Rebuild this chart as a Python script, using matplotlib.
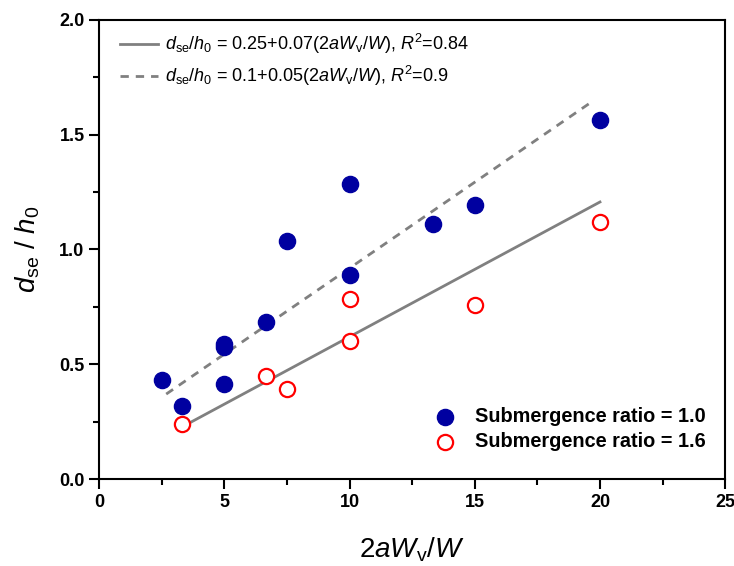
import numpy as np
import matplotlib
matplotlib.use("Agg")
import matplotlib.pyplot as plt

plt.rcParams["font.family"] = ["Liberation Sans", "DejaVu Sans"]
plt.rcParams["mathtext.fontset"] = "custom"
plt.rcParams["mathtext.rm"] = "Liberation Sans"
plt.rcParams["mathtext.it"] = "Liberation Sans:italic"
plt.rcParams["mathtext.bf"] = "Liberation Sans:bold"

# Submergence ratio = 1.0
x_10 = [2.5, 3.33, 5.0, 5.0, 5.0, 6.67, 7.5, 10.0, 10.0, 13.33, 15.0, 20.0]
y_10 = [0.43, 0.32, 0.575, 0.59, 0.415, 0.686, 1.035, 1.284, 0.891, 1.109, 1.192, 1.563]

# Submergence ratio = 1.6
x_16 = [3.33, 6.67, 7.5, 10.0, 10.0, 15.0, 20.0]
y_16 = [0.240, 0.450, 0.393, 0.786, 0.603, 0.760, 1.118]

# fit lines (end points)
fit_solid_x = [3.45, 20.0]
fit_solid_y = [0.235, 1.207]
fit_dash_x = [2.68, 19.6]
fit_dash_y = [0.37, 1.638]

lab_solid = r"$d_{\rm se}/h_0$ = 0.25+0.07(2$aW_{\rm v}/W$), $R^2$=0.84"
lab_dash = r"$d_{\rm se}/h_0$ = 0.1+0.05(2$aW_{\rm v}/W$), $R^2$=0.9"

fig = plt.figure(figsize=(7.34, 5.66), dpi=100)
ax = fig.add_axes([0.135, 0.1537, 0.853, 0.811])

l1, = ax.plot(fit_solid_x, fit_solid_y, color="#808080", linewidth=2.0, label=lab_solid)
l2, = ax.plot(fit_dash_x, fit_dash_y, color="#808080", linewidth=2.0,
              linestyle=(0, (3, 2.5)), label=lab_dash)

s1 = ax.scatter(x_10, y_10, s=135, color="#0000a0", zorder=3,
                label="Submergence ratio = 1.0")
s2 = ax.scatter(x_16, y_16, s=120, facecolors="white", edgecolors="#ff0000",
                linewidths=1.6, zorder=3, label="Submergence ratio = 1.6")

ax.set_xlim(0, 25)
ax.set_ylim(0, 2.0)
ax.set_xticks([0, 5, 10, 15, 20, 25])
ax.set_xticks([2.5, 7.5, 12.5, 17.5, 22.5], minor=True)
ax.set_yticks([0.0, 0.5, 1.0, 1.5, 2.0])
ax.set_yticks([0.25, 0.75, 1.25, 1.75], minor=True)
ax.set_yticklabels(["0.0", "0.5", "1.0", "1.5", "2.0"])
ax.tick_params(which="major", direction="out", length=7, width=1.5,
               labelsize=13)
ax.tick_params(which="minor", direction="out", length=4, width=1.5)
for lbl in ax.get_xticklabels() + ax.get_yticklabels():
    lbl.set_fontweight("bold")
for sp in ax.spines.values():
    sp.set_linewidth(1.5)

ax.set_xlabel(r"2$aW_{\rm v}/W$", fontsize=20, labelpad=18)
ax.set_ylabel(r"$d_{\rm se}$ / $h_0$", fontsize=20, labelpad=12)

leg1 = ax.legend(handles=[l1, l2], loc="upper left", bbox_to_anchor=(0.022, 0.99),
                 frameon=False, fontsize=13, handlelength=2.1, handletextpad=0.4,
                 borderaxespad=0, labelspacing=0.45)
ax.add_artist(leg1)
ax.legend(handles=[s1, s2], loc="lower right", bbox_to_anchor=(0.981, 0.044),
          frameon=False, prop={"size": 14.3, "weight": "bold"},
          handletextpad=0.5, borderaxespad=0, labelspacing=0.3)

fig.savefig("out.png", dpi=100)
